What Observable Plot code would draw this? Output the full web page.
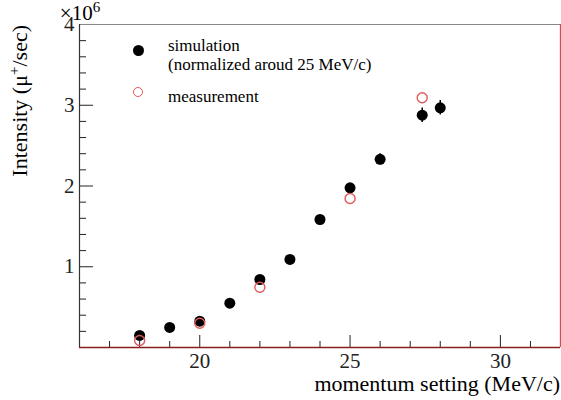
<!DOCTYPE html>
<html><head><meta charset="utf-8">
<script src="https://cdn.jsdelivr.net/npm/d3@7"></script>
<script src="https://cdn.jsdelivr.net/npm/@observablehq/plot@0.6"></script>
<style>
body{margin:0;background:#fff;}
#wrap{position:relative;width:561px;height:400px;font-family:"Liberation Serif","Times New Roman",Times,"DejaVu Serif",serif;}
#wrap svg, #wrap svg text{font-family:"Liberation Serif","Times New Roman",Times,"DejaVu Serif",serif;}
.lg{position:absolute;font-size:17px;color:#000;white-space:nowrap;line-height:19px;font-family:"Liberation Serif","Times New Roman",Times,"DejaVu Serif",serif;}
</style></head><body><div id="wrap"></div>
<script>
// data
const simMomentum  = [18, 19, 20, 21, 22, 23, 24, 25, 26, 27.4, 28];
const simIntensity = [0.149, 0.248, 0.326, 0.549, 0.842, 1.09, 1.585, 1.978, 2.33, 2.877, 2.968].map(v => v * 1e6);
const simError     = [0.01, 0.01, 0.02, 0.02, 0.03, 0.03, 0.04, 0.05, 0.07, 0.09, 0.09].map(v => v * 1e6);
const measMomentum  = [18, 20, 22, 25, 27.4];
const measIntensity = [0.087, 0.30, 0.747, 1.845, 3.092].map(v => v * 1e6);
const xMajorTicks = [20, 25, 30];
const xMinorTicks = [17, 18, 19, 21, 22, 23, 24, 26, 27, 28, 29, 31];
const yMajorTicks = [1, 2, 3, 4].map(v => v * 1e6);
const yMinorTicks = [0.2,0.4,0.6,0.8,1.2,1.4,1.6,1.8,2.2,2.4,2.6,2.8,3.2,3.4,3.6,3.8].map(v => v * 1e6);
const xDomain = [16, 32];
const yDomain = [0, 4e6];

const sim = simMomentum.map((x, i) => ({x, y: simIntensity[i], e: simError[i]}));
const meas = measMomentum.map((x, i) => ({x, y: measIntensity[i]}));
const serif = '"Liberation Serif","Times New Roman",Times,"DejaVu Serif",serif';

const plot = Plot.plot({
  width: 561, height: 400,
  marginLeft: 79, marginTop: 24, marginRight: 1, marginBottom: 53,
  style: {fontFamily: serif, background: "#fff"},
  x: {domain: xDomain},
  y: {domain: yDomain},
  marks: [
    Plot.axisX({ticks: xMinorTicks, tickSize: -6, tickFormat: () => "", stroke: "#222", label: null}),
    Plot.axisX({ticks: xMajorTicks, tickSize: -12, tickPadding: 18, fontSize: 21, tickFormat: d => d, stroke: "#222", fill: "#222", label: null}),
    Plot.axisY({ticks: yMinorTicks, tickSize: -7, tickFormat: () => "", stroke: "#222", label: null}),
    Plot.axisY({ticks: yMajorTicks, tickSize: -14, tickPadding: 19, fontSize: 21, tickFormat: d => d / 1e6, stroke: "#222", fill: "#222", label: null}),
    Plot.ruleY([yDomain[1]], {stroke: "#888", strokeWidth: 1.2}),
    Plot.ruleX([xDomain[0]], {stroke: "#333", strokeWidth: 1.2}),
    Plot.ruleX([xDomain[1]], {stroke: "#d05050", strokeWidth: 1.3}),
    Plot.ruleY([yDomain[0]], {stroke: "#8b1f1f", strokeWidth: 1.5}),
    Plot.ruleX(sim, {x: "x", y1: d => d.y - d.e, y2: d => d.y + d.e, stroke: "#000", strokeWidth: 1.5}),
    Plot.dot(sim, {x: "x", y: "y", r: 5.5, fill: "#000", stroke: "none"}),
    Plot.dot(meas, {x: "x", y: "y", r: 5, fill: "none", stroke: "#e05a5a", strokeWidth: 1.4})
  ]
});
const wrap = document.getElementById("wrap");
wrap.appendChild(plot);

// axis titles and exponent
const svg = d3.select(plot);
svg.append("text").attr("x", 560).attr("y", 391).attr("text-anchor", "end")
  .attr("font-size", 22).attr("fill", "#000").attr("font-family", serif).text("momentum setting (MeV/c)");
const yt = svg.append("text").attr("transform", "translate(27,25) rotate(-90)").attr("text-anchor", "end")
  .attr("font-size", 22).attr("fill", "#000").attr("font-family", serif);
yt.append("tspan").text("Intensity (μ");
yt.append("tspan").attr("baseline-shift", "super").attr("font-size", 15).text("+");
yt.append("tspan").text("/sec)");
const ex = svg.append("text").attr("x", 80).attr("y", 20).attr("font-size", 21).attr("fill", "#000").attr("font-family", serif);
ex.append("tspan").text("×10");
ex.append("tspan").attr("baseline-shift", "super").attr("font-size", 15).text("6");

// legend
const leg = [
  {type: "sim", lines: ["simulation", "(normalized aroud 25 MeV/c)"], top: 36},
  {type: "meas", lines: ["measurement"], top: 87}
];
leg.forEach(l => {
  const sym = document.createElement("div");
  sym.style.cssText = "position:absolute;width:10px;height:10px;border-radius:50%;box-sizing:border-box;";
  if (l.type === "sim") { sym.style.background = "#000"; sym.style.left = "133px"; sym.style.top = "45px"; sym.style.width = "11px"; sym.style.height = "11px"; }
  else { sym.style.border = "1.4px solid #e05a5a"; sym.style.left = "133px"; sym.style.top = "87px"; }
  wrap.appendChild(sym);
  const t = document.createElement("div");
  t.className = "lg";
  t.style.left = "168px"; t.style.top = l.top + "px";
  t.innerHTML = l.lines.join("<br>");
  wrap.appendChild(t);
});
</script></body></html>
